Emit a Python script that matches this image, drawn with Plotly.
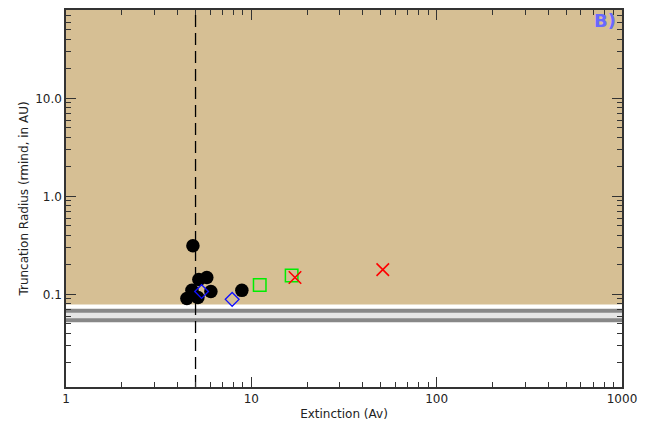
import plotly.graph_objects as go

# Data
circ_av = [4.84, 5.75, 5.21, 6.05, 4.78, 4.49, 5.15, 8.89]
circ_r = [0.314, 0.149, 0.142, 0.107, 0.110, 0.091, 0.093, 0.110]
diam_av = [5.39, 7.88]
diam_r = [0.107, 0.089]
sq_av = [11.1, 16.5]
sq_r = [0.125, 0.156]
x_av = [17.2, 51.2]
x_r = [0.149, 0.179]

av_cut = 5.0
tan_floor = 0.079
band_hi = 0.068
band_lo = 0.0545

xtick_vals = [1, 10, 100, 1000]
xtick_text = ["1", "10", "100", "1000"]
ytick_vals = [0.1, 1.0, 10.0]
ytick_text = ["0.1", "1.0", "10.0"]

xminor = [m * 10 ** e for e in range(0, 3) for m in range(2, 10)]
yminor = [m * 10 ** e for e in range(-2, 2) for m in range(2, 10)]

fig = go.Figure()
fig.add_trace(go.Scatter(x=circ_av, y=circ_r, mode="markers",
                         marker=dict(symbol="circle", size=13.5, color="black"),
                         showlegend=False))
fig.add_trace(go.Scatter(x=diam_av, y=diam_r, mode="markers",
                         marker=dict(symbol="diamond-open", size=10.5, color="#1010ff",
                                     line=dict(width=1.4)),
                         showlegend=False))
fig.add_trace(go.Scatter(x=sq_av, y=sq_r, mode="markers",
                         marker=dict(symbol="square-open", size=12.5, color="#00ee00",
                                     line=dict(width=1.5)),
                         showlegend=False))
fig.add_trace(go.Scatter(x=x_av, y=x_r, mode="markers",
                         marker=dict(symbol="x-thin-open", size=12.5, color="#ff0000",
                                     line=dict(width=1.6, color="#ff0000")),
                         showlegend=False))

shapes = [
    dict(type="rect", xref="x domain", yref="y", x0=0, x1=1, y0=tan_floor, y1=100,
         fillcolor="#d6bf94", line=dict(width=0), layer="below"),
    dict(type="rect", xref="x domain", yref="y", x0=0, x1=1, y0=band_lo, y1=band_hi,
         fillcolor="#e6e6e6", line=dict(width=0), layer="below"),
    dict(type="line", xref="x domain", yref="y", x0=0, x1=1, y0=band_hi, y1=band_hi,
         line=dict(color="#888888", width=4), layer="below"),
    dict(type="line", xref="x domain", yref="y", x0=0, x1=1, y0=band_lo, y1=band_lo,
         line=dict(color="#888888", width=4), layer="below"),
    dict(type="line", xref="x", yref="y domain", x0=av_cut, x1=av_cut, y0=0, y1=1,
         line=dict(color="black", width=1.3, dash="12px,6px"), layer="below"),
]

axis_font = dict(family="DejaVu Sans, sans-serif", size=12, color="#222")

fig.update_layout(
    width=662, height=431,
    margin=dict(l=58, r=48, t=0, b=52),
    paper_bgcolor="white", plot_bgcolor="white",
    shapes=shapes,
    font=axis_font,
    annotations=[dict(text="<b>B)</b>", xref="paper", yref="paper", x=0.969, y=0.971,
                      xanchor="center", yanchor="middle",
                      showarrow=False, font=dict(size=18, color="#6868ff",
                                                  family="DejaVu Sans, sans-serif"))],
    xaxis=dict(type="log", range=[0, 3], tickvals=xtick_vals, ticktext=xtick_text,
               ticks="inside", ticklen=10, tickwidth=1, tickcolor="#333",
               showline=True, linecolor="#333", linewidth=1.5, mirror="ticks",
               showgrid=False, zeroline=False,
               minor=dict(tickvals=xminor, ticks="inside", ticklen=5, tickcolor="#333",
                          showgrid=False),
               title=dict(text="Extinction (Av)", standoff=4, font=axis_font)),
    yaxis=dict(type="log", range=[-1.945, 1.903], tickvals=ytick_vals, ticktext=ytick_text,
               ticks="inside", ticklen=10, tickwidth=1, tickcolor="#333",
               showline=True, linecolor="#333", linewidth=1.5, mirror="ticks",
               showgrid=False, zeroline=False,
               minor=dict(tickvals=yminor, ticks="inside", ticklen=5, tickcolor="#333",
                          showgrid=False),
               title=dict(text="Truncation Radius (rmind, in AU)", standoff=4, font=axis_font)),
)

fig.write_html("out.html")
